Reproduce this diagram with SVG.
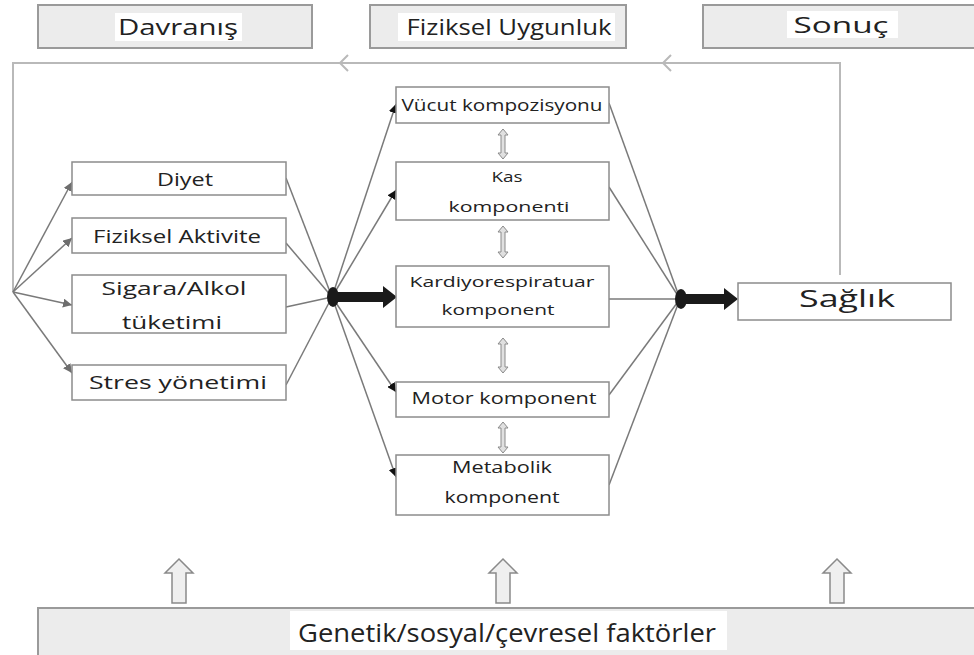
<svg xmlns="http://www.w3.org/2000/svg" width="974" height="655" viewBox="0 0 974 655">
<defs>
<style>
.hdr{fill:#ececec;stroke:#9a9a9a;stroke-width:2}
.bg{fill:#ffffff}
.box{fill:#ffffff;stroke:#8c8c8c;stroke-width:1.5}
.t{font-family:"Open Sans","Liberation Sans",sans-serif;fill:#222;text-anchor:middle}
.fb{fill:none;stroke:#b9b9b9;stroke-width:2}
.ln{fill:none;stroke:#7a7a7a;stroke-width:1.5}
.thick{fill:#1a1a1a}
.hollow{fill:#efefef;stroke:#8a8a8a;stroke-width:1.5}
.dbl{fill:#e0e0e0;stroke:#8a8a8a;stroke-width:1}
</style>
<marker id="ag" viewBox="0 0 10 10" refX="10" refY="5" markerWidth="9" markerHeight="9" markerUnits="userSpaceOnUse" orient="auto"><path d="M0,0 L10,5 L0,10 z" fill="#6e6e6e"/></marker>
<marker id="ab" viewBox="0 0 10 10" refX="10" refY="5" markerWidth="9" markerHeight="9" markerUnits="userSpaceOnUse" orient="auto"><path d="M0,0 L10,5 L0,10 z" fill="#111"/></marker>
</defs>

<g id="hdr-davranis"><rect class="hdr" x="38" y="5" width="274" height="43"/><rect class="bg" x="115" y="13" width="127" height="28"/><text class="t" x="178" y="35" font-size="22" textLength="120" lengthAdjust="spacingAndGlyphs">Davranış</text></g>
<g id="hdr-fiziksel"><rect class="hdr" x="370" y="5" width="256" height="43"/><rect class="bg" x="398" y="13" width="217" height="28"/><text class="t" x="509" y="35" font-size="22" textLength="205" lengthAdjust="spacingAndGlyphs">Fiziksel Uygunluk</text></g>
<g id="hdr-sonuc"><rect class="hdr" x="703" y="5" width="275" height="43"/><rect class="bg" x="787" y="11" width="111" height="27"/><text class="t" x="841" y="33" font-size="22" textLength="95" lengthAdjust="spacingAndGlyphs">Sonuç</text></g>

<g id="connectors">
<polyline class="fb" points="840,275 840,63 13,63 13,292"/>
<polyline class="fb" points="348,55 340,63 348,71"/>
<polyline class="fb" points="671,55 663,63 671,71"/>
<line class="ln" x1="13" y1="292" x2="72" y2="182" marker-end="url(#ag)"/>
<line class="ln" x1="13" y1="292" x2="72" y2="238" marker-end="url(#ag)"/>
<line class="ln" x1="13" y1="292" x2="72" y2="305" marker-end="url(#ag)"/>
<line class="ln" x1="13" y1="292" x2="72" y2="373" marker-end="url(#ag)"/>
<line class="ln" x1="286" y1="178" x2="332" y2="297"/>
<line class="ln" x1="286" y1="243" x2="332" y2="297"/>
<line class="ln" x1="286" y1="307" x2="332" y2="297"/>
<line class="ln" x1="286" y1="385" x2="332" y2="297"/>
<line class="ln" x1="332" y1="297" x2="396" y2="104" marker-end="url(#ab)"/>
<line class="ln" x1="332" y1="297" x2="396" y2="190" marker-end="url(#ab)"/>
<line class="ln" x1="332" y1="297" x2="396" y2="392" marker-end="url(#ab)"/>
<line class="ln" x1="332" y1="297" x2="396" y2="477" marker-end="url(#ab)"/>
<line class="ln" x1="609" y1="103" x2="680" y2="299"/>
<line class="ln" x1="609" y1="187" x2="680" y2="299"/>
<line class="ln" x1="609" y1="299" x2="680" y2="299"/>
<line class="ln" x1="609" y1="395" x2="680" y2="299"/>
<line class="ln" x1="609" y1="485" x2="680" y2="299"/>
<ellipse class="thick" cx="333" cy="297" rx="6" ry="10"/>
<path class="thick" d="M333,292 L383,292 L383,286 L397,297 L383,308 L383,302 L333,302 z"/>
<ellipse class="thick" cx="681" cy="299" rx="6" ry="10"/>
<path class="thick" d="M681,294 L724,294 L724,288 L738,299 L724,310 L724,304 L681,304 z"/>
<path class="dbl" d="M503,129 L508,135 L505,135 L505,153 L508,153 L503,159 L498,153 L501,153 L501,135 L498,135 z"/>
<path class="dbl" d="M503,226 L508,232 L505,232 L505,252 L508,252 L503,258 L498,252 L501,252 L501,232 L498,232 z"/>
<path class="dbl" d="M503,338 L508,344 L505,344 L505,367 L508,367 L503,373 L498,367 L501,367 L501,344 L498,344 z"/>
<path class="dbl" d="M503,422 L508,428 L505,428 L505,447 L508,447 L503,453 L498,447 L501,447 L501,428 L498,428 z"/>
<path class="hollow" d="M179,559 L193,573 L186,573 L186,603 L172,603 L172,573 L165,573 z"/>
<path class="hollow" d="M503,559 L517,573 L510,573 L510,603 L496,603 L496,573 L489,573 z"/>
<path class="hollow" d="M837,559 L851,573 L844,573 L844,603 L830,603 L830,573 L823,573 z"/>
</g>

<g id="n-diyet"><rect class="box" x="72" y="162" width="214" height="33"/><text class="t" x="185" y="186" font-size="18" textLength="56" lengthAdjust="spacingAndGlyphs">Diyet</text></g>
<g id="n-aktivite"><rect class="box" x="72" y="218" width="214" height="35"/><text class="t" x="177" y="243" font-size="18" textLength="168" lengthAdjust="spacingAndGlyphs">Fiziksel Aktivite</text></g>
<g id="n-sigara"><rect class="box" x="72" y="275" width="214" height="58"/><text class="t" x="174" y="295" font-size="18" textLength="145" lengthAdjust="spacingAndGlyphs">Sigara/Alkol</text><text class="t" x="172" y="329" font-size="18" textLength="100" lengthAdjust="spacingAndGlyphs">tüketimi</text></g>
<g id="n-stres"><rect class="box" x="72" y="365" width="214" height="35"/><text class="t" x="178" y="389" font-size="18" textLength="178" lengthAdjust="spacingAndGlyphs">Stres yönetimi</text></g>

<g id="n-vucut"><rect class="box" x="396" y="87" width="213" height="36"/><text class="t" x="502" y="111" font-size="16" textLength="201" lengthAdjust="spacingAndGlyphs">Vücut kompozisyonu</text></g>
<g id="n-kas"><rect class="box" x="396" y="162" width="213" height="58"/><text class="t" x="507" y="182" font-size="15" textLength="31" lengthAdjust="spacingAndGlyphs">Kas</text><text class="t" x="509" y="212" font-size="15" textLength="121" lengthAdjust="spacingAndGlyphs">komponenti</text></g>
<g id="n-kardiyo"><rect class="box" x="396" y="266" width="213" height="61"/><text class="t" x="502" y="287" font-size="15" textLength="185" lengthAdjust="spacingAndGlyphs">Kardiyorespiratuar</text><text class="t" x="498" y="315" font-size="15" textLength="113" lengthAdjust="spacingAndGlyphs">komponent</text></g>
<g id="n-motor"><rect class="box" x="396" y="382" width="213" height="35"/><text class="t" x="504" y="404" font-size="17" textLength="185" lengthAdjust="spacingAndGlyphs">Motor komponent</text></g>
<g id="n-metabolik"><rect class="box" x="396" y="455" width="213" height="60"/><text class="t" x="502" y="473" font-size="16" textLength="100" lengthAdjust="spacingAndGlyphs">Metabolik</text><text class="t" x="502" y="503" font-size="16" textLength="115" lengthAdjust="spacingAndGlyphs">komponent</text></g>

<g id="n-saglik"><rect class="box" x="738" y="283" width="213" height="37"/><text class="t" x="847" y="307" font-size="23" textLength="96" lengthAdjust="spacingAndGlyphs">Sağlık</text></g>

<g id="n-genetik"><rect class="hdr" x="38" y="608" width="940" height="50"/><rect class="bg" x="290" y="611" width="437" height="39"/><text class="t" x="507" y="642" font-size="25" textLength="418" lengthAdjust="spacingAndGlyphs">Genetik/sosyal/çevresel faktörler</text></g>
</svg>
